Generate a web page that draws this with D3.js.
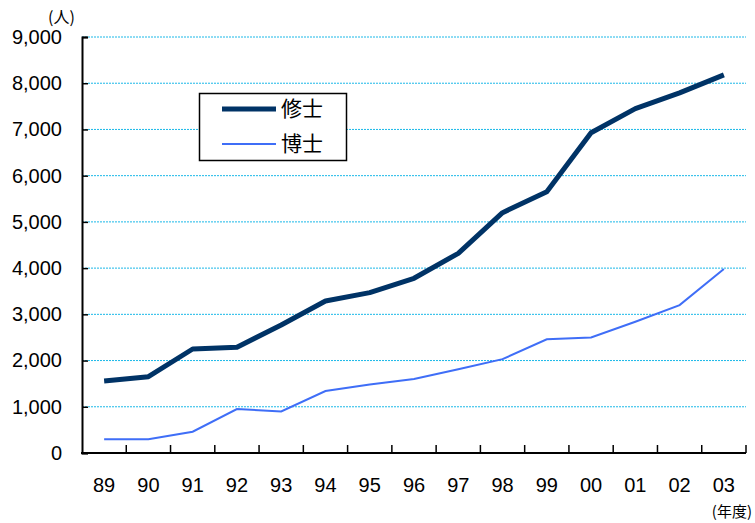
<!DOCTYPE html>
<html>
<head>
<meta charset="utf-8">
<script src="https://cdn.jsdelivr.net/npm/d3@7"></script>
<style>
  body { margin: 0; background: #fff; }
  svg { display: block; font-family: "Liberation Sans", Arial, sans-serif; }
</style>
</head>
<body>
<svg id="chart" width="755" height="523"></svg>
<script>
// Fiscal years (two-digit labels)
const years = ["89", "90", "91", "92", "93", "94", "95", "96", "97", "98", "99", "00", "01", "02", "03"];
// Master's degree count (修士)
const master = [1560, 1650, 2250, 2290, 2770, 3290, 3470, 3780, 4320, 5200, 5650, 6930, 7450, 7790, 8180];
// Doctoral degree count (博士)
const doctor = [300, 300, 460, 950, 900, 1340, 1480, 1600, 1810, 2030, 2460, 2500, 2840, 3200, 3980];
const yTicks = [0, 1000, 2000, 3000, 4000, 5000, 6000, 7000, 8000, 9000];
const seriesNames = ["修士", "博士"];

const svg = d3.select("#chart");
const plotLeft = 82, plotRight = 746, plotTop = 37, plotBottom = 453;

const x = d3.scaleBand().domain(years).range([plotLeft, plotRight]);
const y = d3.scaleLinear().domain([0, 9000]).range([plotBottom, plotTop]);

// Horizontal dashed gridlines
svg.append("g")
  .selectAll("line")
  .data(yTicks.filter(d => d > 0))
  .join("line")
  .attr("x1", plotLeft).attr("x2", plotRight)
  .attr("y1", d => y(d)).attr("y2", d => y(d))
  .attr("stroke", "#1ab8e8")
  .attr("stroke-width", 1)
  .attr("stroke-dasharray", "2,1");

// Y axis with inward ticks
const yAxis = svg.append("g")
  .attr("transform", `translate(${plotLeft},0)`)
  .call(d3.axisLeft(y).tickValues(yTicks).tickSize(-6).tickPadding(20)
    .tickFormat(d3.format(",")));
yAxis.select(".domain").attr("stroke", "#000").attr("stroke-width", 2);
yAxis.selectAll(".tick line").attr("stroke", "#000").attr("stroke-width", 1.5);
yAxis.selectAll(".tick text").attr("font-size", 20).attr("fill", "#000")
  .attr("font-family", "Liberation Sans, Arial, sans-serif");

// X axis: baseline with ticks at category boundaries
const boundaries = years.map(d => x(d)).concat([plotRight]);
svg.append("line")
  .attr("x1", plotLeft - 1).attr("x2", plotRight)
  .attr("y1", plotBottom).attr("y2", plotBottom)
  .attr("stroke", "#000").attr("stroke-width", 2);
svg.append("g")
  .selectAll("line")
  .data(boundaries.slice(1))
  .join("line")
  .attr("x1", d => d).attr("x2", d => d)
  .attr("y1", plotBottom).attr("y2", plotBottom - 8)
  .attr("stroke", "#000").attr("stroke-width", 1.5);
svg.append("g")
  .selectAll("text")
  .data(years)
  .join("text")
  .attr("x", d => x(d) + x.bandwidth() / 2)
  .attr("y", 492)
  .attr("text-anchor", "middle")
  .attr("font-size", 20)
  .attr("fill", "#000")
  .text(d => d);

// Series lines
const line = d3.line()
  .x((d, i) => x(years[i]) + x.bandwidth() / 2)
  .y(d => y(d));

svg.append("path")
  .datum(doctor)
  .attr("d", line)
  .attr("fill", "none")
  .attr("stroke", "#3f6ef7")
  .attr("stroke-width", 2);

svg.append("path")
  .datum(master)
  .attr("d", line)
  .attr("fill", "none")
  .attr("stroke", "#003366")
  .attr("stroke-width", 5)
  .attr("stroke-linejoin", "round");

// Units
svg.append("text")
  .attr("x", 48).attr("y", 23)
  .attr("font-size", 16)
  .attr("font-family", "Noto Sans CJK JP, sans-serif")
  .text("(人)");
svg.append("text")
  .attr("x", 752).attr("y", 517)
  .attr("text-anchor", "end")
  .attr("font-size", 15)
  .attr("font-family", "Noto Sans CJK JP, sans-serif")
  .text("(年度)");

// Legend
const legend = svg.append("g");
legend.append("rect")
  .attr("x", 199.5).attr("y", 93.5)
  .attr("width", 147).attr("height", 67)
  .attr("fill", "#fff").attr("stroke", "#000").attr("stroke-width", 1.5);
const legendItems = [
  { name: seriesNames[0], color: "#003366", width: 5, yy: 109 },
  { name: seriesNames[1], color: "#3f6ef7", width: 2, yy: 144 }
];
legendItems.forEach(item => {
  legend.append("line")
    .attr("x1", 222).attr("x2", 276)
    .attr("y1", item.yy).attr("y2", item.yy)
    .attr("stroke", item.color)
    .attr("stroke-width", item.width);
  legend.append("text")
    .attr("x", 281).attr("y", item.yy + 7)
    .attr("font-size", 21)
    .attr("font-family", "Noto Sans CJK JP, sans-serif")
    .text(item.name);
});
</script>
</body>
</html>
